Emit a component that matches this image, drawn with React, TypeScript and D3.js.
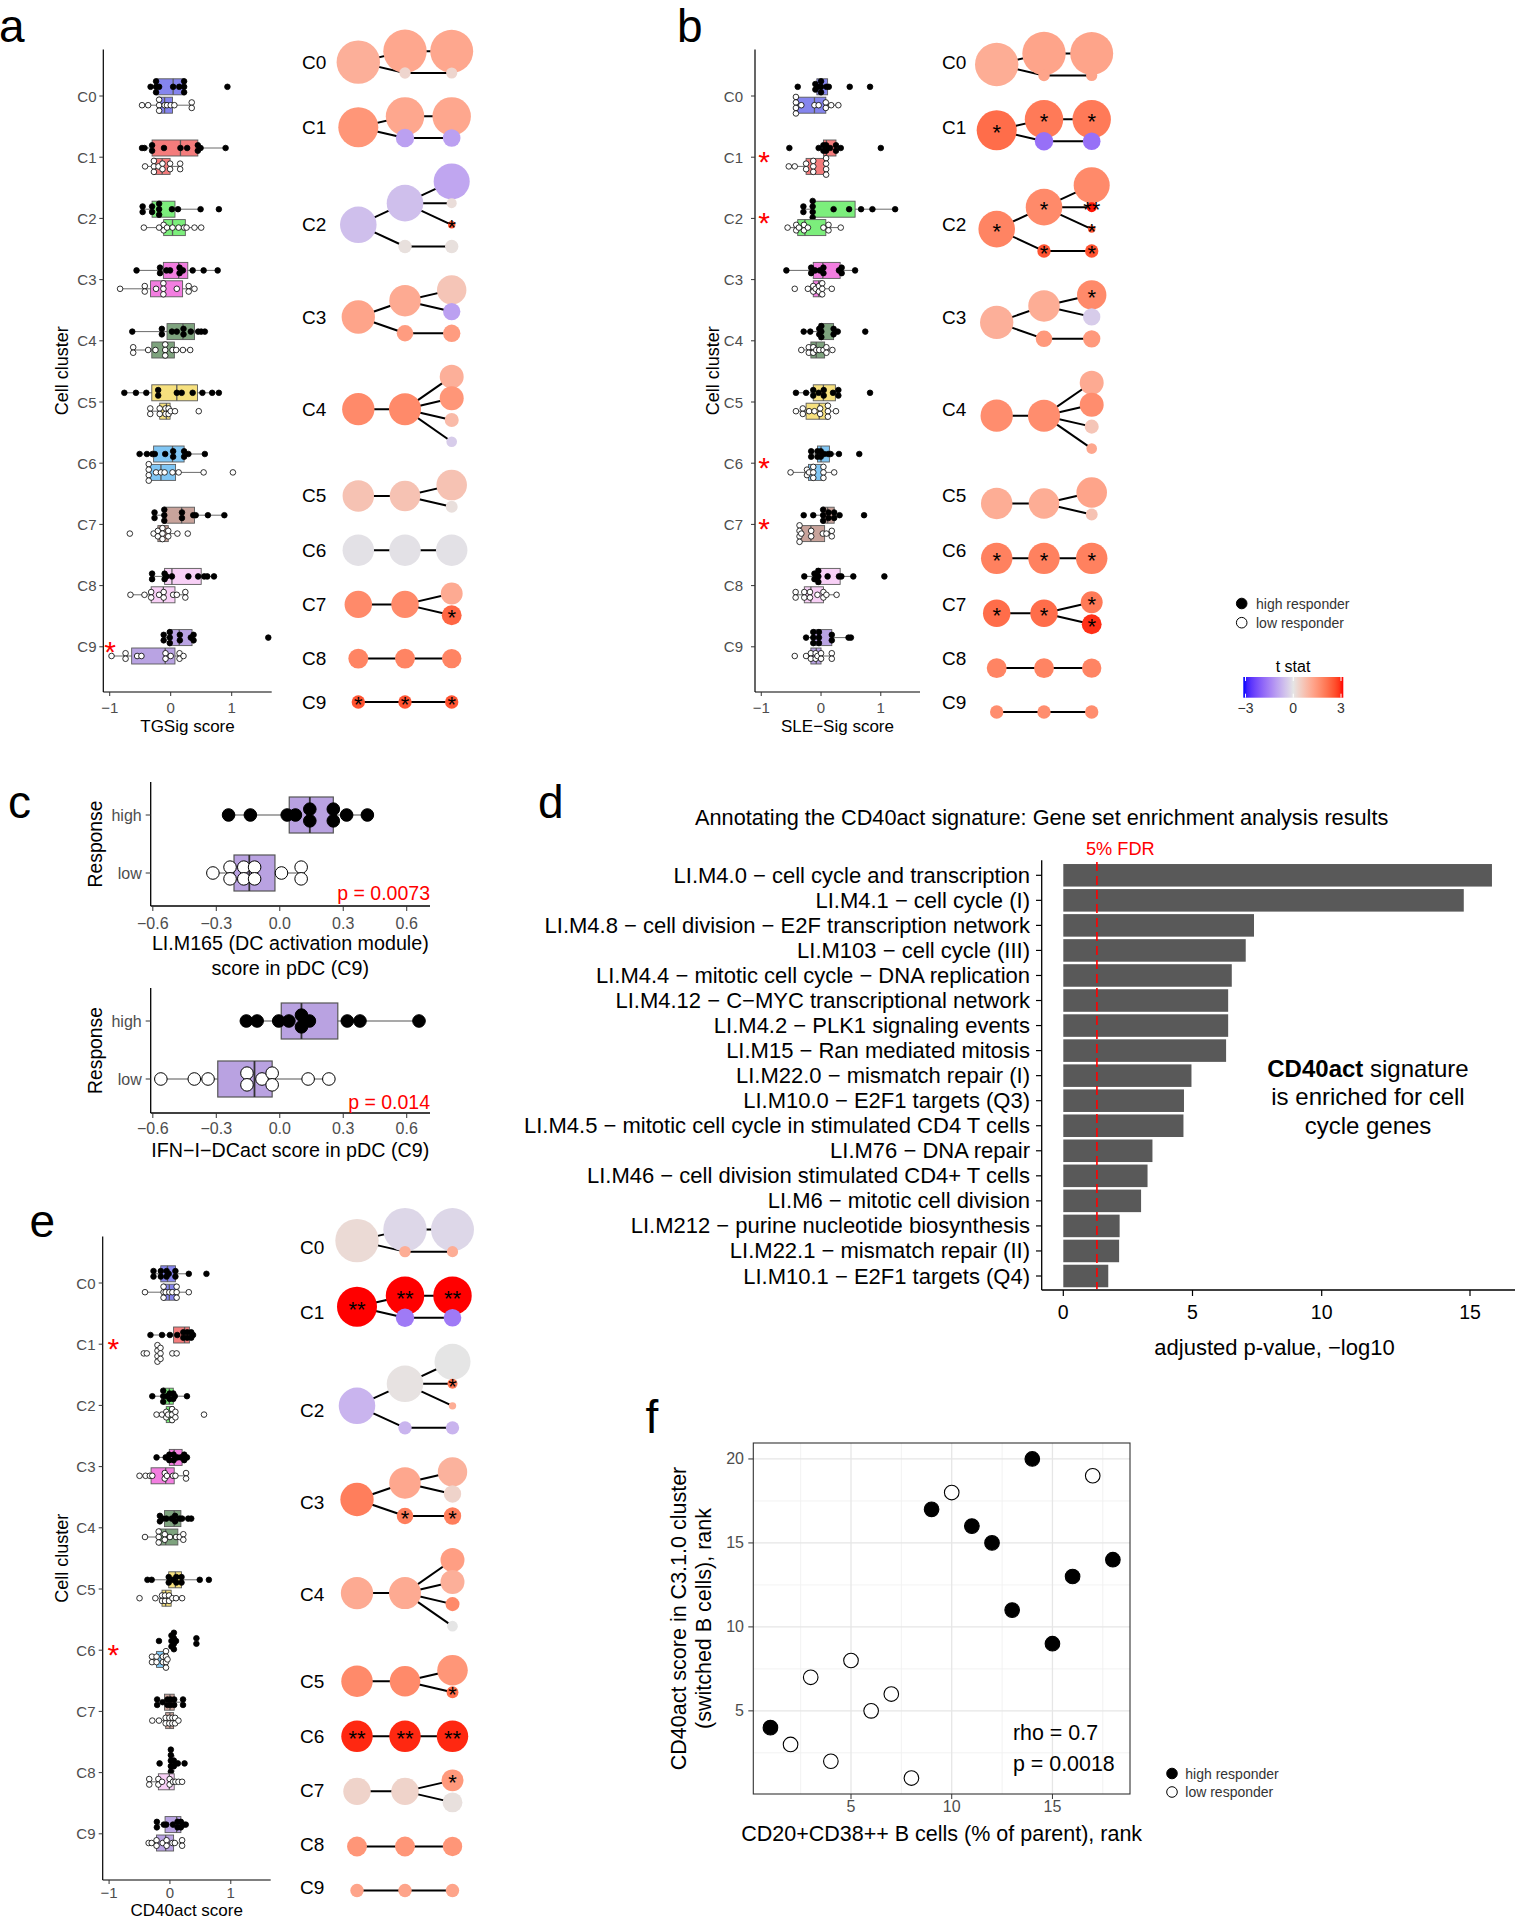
import React from "react";
import * as d3 from "d3";

const FONT = "'Liberation Sans', Arial, Helvetica, sans-serif";
const GREY30 = "#4d4d4d";
const MINUS = "\u2212";

// ---------------- shared categories ----------------
const clusters = ["C0", "C1", "C2", "C3", "C4", "C5", "C6", "C7", "C8", "C9"];
const responders = ["high", "low"];
const clusterFill = ["#8585ee", "#f47c7c", "#7cee7c", "#f27ee0", "#7ea37e", "#f6e07e", "#80c6f4", "#c8a39b", "#f8d0f6", "#b9a3e3"];

// ---------------- panel a: TGSig score per cluster ----------------
const tgsigHigh = [
  [-0.33, -0.25, -0.23, -0.23, -0.19, 0.04, 0.14, 0.2, 0.24, 0.24, 0.93],
  [-0.47, -0.43, -0.31, -0.3, -0.11, 0.16, 0.27, 0.43, 0.46, 0.49, 0.9],
  [-0.47, -0.45, -0.31, -0.3, -0.2, -0.19, -0.18, 0.02, 0.12, 0.49, 0.79],
  [-0.56, -0.18, -0.17, -0.07, -0.01, 0.13, 0.16, 0.2, 0.36, 0.54, 0.77],
  [-0.63, -0.15, -0.14, 0.02, 0.1, 0.2, 0.22, 0.33, 0.45, 0.5, 0.56],
  [-0.76, -0.57, -0.4, -0.22, -0.19, 0.1, 0.18, 0.36, 0.52, 0.68, 0.79],
  [-0.51, -0.39, -0.3, -0.26, -0.09, 0.03, 0.05, 0.2, 0.24, 0.29, 0.56],
  [-0.27, -0.26, -0.12, -0.1, -0.09, 0.18, 0.19, 0.37, 0.41, 0.61, 0.88],
  [-0.31, -0.3, -0.11, -0.09, -0.07, 0.02, 0.29, 0.45, 0.55, 0.6, 0.71],
  [-0.12, -0.11, -0.03, -0.01, 0.0, 0.14, 0.16, 0.33, 0.37, 0.38, 1.6],
];
const tgsigLow = [
  [-0.47, -0.37, -0.2, -0.18, -0.18, -0.1, -0.06, 0.0, 0.06, 0.34, 0.35],
  [-0.42, -0.28, -0.28, -0.27, -0.2, -0.14, -0.13, -0.03, 0.01, 0.15, 0.16],
  [-0.44, -0.19, -0.12, -0.11, -0.06, 0.03, 0.13, 0.22, 0.26, 0.39, 0.5],
  [-0.83, -0.43, -0.42, -0.24, -0.13, -0.12, -0.11, 0.1, 0.29, 0.3, 0.39],
  [-0.62, -0.61, -0.37, -0.25, -0.1, -0.09, -0.08, 0.03, 0.09, 0.2, 0.32],
  [-0.34, -0.33, -0.19, -0.17, -0.1, -0.07, -0.05, -0.02, 0.0, 0.07, 0.46],
  [-0.37, -0.36, -0.36, -0.35, -0.24, -0.16, -0.1, 0.03, 0.13, 0.54, 1.02],
  [-0.67, -0.28, -0.22, -0.2, -0.15, -0.13, -0.12, -0.05, -0.03, 0.11, 0.28],
  [-0.66, -0.43, -0.33, -0.31, -0.19, -0.12, -0.11, 0.04, 0.1, 0.23, 0.25],
  [-0.97, -0.75, -0.73, -0.55, -0.48, -0.09, -0.08, 0.0, 0.14, 0.15, 0.21],
];
const tgsigStarred = ["C9"];

// ---------------- panel b: SLE-Sig score per cluster ----------------
const sleHigh = [
  [-0.39, -0.11, -0.08, -0.06, -0.01, 0.0, 0.01, 0.09, 0.13, 0.48, 0.82],
  [-0.53, -0.04, 0.03, 0.05, 0.08, 0.09, 0.15, 0.24, 0.26, 0.33, 1.0],
  [-0.3, -0.29, -0.15, -0.14, -0.14, -0.13, 0.21, 0.47, 0.67, 0.86, 1.24],
  [-0.58, -0.17, -0.16, -0.1, -0.02, 0.03, 0.05, 0.3, 0.34, 0.35, 0.57],
  [-0.29, -0.18, -0.04, -0.02, 0.0, 0.0, 0.01, 0.2, 0.22, 0.28, 0.74],
  [-0.42, -0.25, -0.14, -0.12, -0.04, 0.04, 0.05, 0.2, 0.28, 0.3, 0.82],
  [-0.17, -0.16, -0.07, -0.05, -0.01, 0.0, 0.05, 0.12, 0.16, 0.3, 0.64],
  [-0.29, -0.13, 0.02, 0.04, 0.05, 0.11, 0.14, 0.2, 0.24, 0.31, 0.72],
  [-0.28, -0.12, -0.1, -0.06, -0.05, -0.03, 0.11, 0.3, 0.34, 0.54, 1.06],
  [-0.25, -0.14, -0.13, -0.12, -0.05, -0.04, -0.02, 0.17, 0.19, 0.46, 0.5],
];
const sleLow = [
  [-0.43, -0.42, -0.42, -0.41, -0.33, -0.11, -0.04, 0.07, 0.09, 0.17, 0.29],
  [-0.54, -0.44, -0.26, -0.24, -0.14, -0.13, -0.12, 0.07, 0.09, 0.09, 0.1],
  [-0.56, -0.42, -0.41, -0.37, -0.3, -0.27, -0.22, 0.04, 0.12, 0.13, 0.33],
  [-0.44, -0.22, -0.14, -0.12, -0.09, -0.04, -0.03, 0.01, 0.03, 0.03, 0.18],
  [-0.33, -0.22, -0.19, -0.15, -0.11, -0.08, -0.03, 0.04, 0.08, 0.1, 0.19],
  [-0.42, -0.31, -0.3, -0.2, -0.11, -0.03, 0.0, 0.1, 0.12, 0.13, 0.25],
  [-0.51, -0.25, -0.22, -0.2, -0.14, -0.13, -0.12, 0.03, 0.05, 0.05, 0.22],
  [-0.37, -0.36, -0.36, -0.35, -0.33, -0.17, -0.16, 0.03, 0.09, 0.17, 0.19],
  [-0.43, -0.42, -0.29, -0.27, -0.2, -0.17, -0.06, 0.03, 0.05, 0.09, 0.26],
  [-0.44, -0.25, -0.18, -0.16, -0.1, -0.08, -0.06, -0.01, 0.01, 0.17, 0.19],
];
const sleStarred = ["C1", "C2", "C6", "C7"];

// ---------------- panel e: CD40act score per cluster ----------------
const cdHigh = [
  [-0.29, -0.25, -0.16, -0.14, -0.07, -0.04, -0.02, 0.07, 0.11, 0.31, 0.6],
  [-0.32, -0.13, 0.0, 0.12, 0.2, 0.24, 0.27, 0.3, 0.34, 0.36, 0.38],
  [-0.29, -0.12, -0.11, -0.1, -0.05, -0.01, 0.0, 0.04, 0.07, 0.08, 0.28],
  [-0.22, -0.07, -0.02, 0.0, 0.05, 0.07, 0.12, 0.18, 0.22, 0.25, 0.28],
  [-0.18, -0.15, -0.12, -0.06, 0.03, 0.07, 0.1, 0.16, 0.2, 0.3, 0.35],
  [-0.37, -0.3, -0.03, -0.01, 0.05, 0.09, 0.12, 0.17, 0.21, 0.49, 0.64],
  [-0.18, 0.01, 0.03, 0.04, 0.05, 0.06, 0.07, 0.08, 0.1, 0.42, 0.45],
  [-0.22, -0.2, -0.12, -0.06, -0.02, 0.0, 0.02, 0.06, 0.08, 0.2, 0.23],
  [-0.17, 0.0, 0.01, 0.01, 0.02, 0.02, 0.03, 0.05, 0.08, 0.13, 0.24],
  [-0.23, -0.2, -0.1, -0.06, 0.05, 0.11, 0.14, 0.17, 0.19, 0.22, 0.26],
];
const cdLow = [
  [-0.41, -0.11, -0.11, -0.1, -0.07, -0.01, 0.04, 0.1, 0.11, 0.12, 0.31],
  [-0.43, -0.38, -0.22, -0.21, -0.2, -0.19, -0.17, -0.16, -0.14, 0.04, 0.11],
  [-0.22, -0.13, -0.07, -0.05, -0.03, 0.02, 0.03, 0.05, 0.07, 0.11, 0.56],
  [-0.5, -0.4, -0.33, -0.29, -0.1, -0.07, -0.05, 0.05, 0.09, 0.26, 0.27],
  [-0.41, -0.2, -0.19, -0.17, -0.1, -0.07, 0.0, 0.1, 0.16, 0.2, 0.24],
  [-0.5, -0.24, -0.14, -0.12, -0.09, -0.07, -0.03, 0.0, 0.04, 0.1, 0.2],
  [-0.3, -0.29, -0.24, -0.2, -0.13, -0.1, -0.08, -0.07, -0.06, -0.05, -0.04],
  [-0.29, -0.18, -0.08, -0.06, -0.02, 0.0, 0.03, 0.05, 0.07, 0.1, 0.14],
  [-0.35, -0.33, -0.2, -0.18, -0.13, -0.01, 0.0, 0.05, 0.09, 0.14, 0.2],
  [-0.35, -0.3, -0.23, -0.21, -0.12, -0.07, -0.04, 0.04, 0.08, 0.19, 0.21],
];
const cdStarred = ["C1", "C6"];
const miniTicks = [-1, 0, 1];

// ---------------- cluster trees (shared hierarchy) ----------------
const treeCluster = [0, 0, 0, 0, 0, 1, 1, 1, 1, 1, 2, 2, 2, 2, 2, 2, 2, 3, 3, 3, 3, 3, 3, 4, 4, 4, 4, 4, 4, 5, 5, 5, 5, 6, 6, 6, 7, 7, 7, 7, 8, 8, 8, 9, 9, 9];
const treeLevel = [1, 2, 2, 3, 3, 1, 2, 2, 3, 3, 1, 2, 2, 3, 3, 3, 3, 1, 2, 2, 3, 3, 3, 1, 2, 3, 3, 3, 3, 1, 2, 3, 3, 1, 2, 3, 1, 2, 3, 3, 1, 2, 3, 1, 2, 3];
const treeParent = [-1, 0, 0, 1, 2, -1, 5, 5, 6, 7, -1, 10, 10, 11, 11, 11, 12, -1, 17, 17, 18, 18, 19, -1, 23, 24, 24, 24, 24, -1, 29, 30, 30, -1, 33, 34, -1, 36, 37, 37, -1, 40, 41, -1, 43, 44];
// relative cell frequency of each node (% of cells)
const treeFreq = [20, 20, 1.38, 19.6, 1.33, 17, 15.7, 3.6, 15.7, 3.3, 14.2, 14.2, 1.9, 13.8, 1.06, 0.58, 1.9, 11.8, 10.5, 2.9, 9.2, 3.2, 3.2, 11.1, 10.9, 6.1, 6.1, 2.1, 1.2, 10.5, 9.9, 9.9, 1.5, 10.5, 10.5, 10.5, 8, 8, 5.1, 4.2, 4.2, 4.2, 4.0, 1.9, 1.9, 1.9];
const tstatA = [1.0, 1.15, 0.3, 1.15, 0.3, 1.45, 1.15, -1.0, 1.15, -1.0, -0.55, -0.55, 0.1, -0.9, 0.15, 2.45, 0.1, 1.2, 1.1, 1.35, 0.6, -1.0, 1.35, 1.65, 1.65, 1.0, 1.45, 0.8, -0.35, 0.65, 0.65, 0.65, 0.12, -0.05, -0.05, -0.05, 1.65, 1.65, 1.1, 2.2, 1.75, 1.75, 1.75, 2.45, 2.45, 2.45];
const signifA: [number, string][] = [[15, "*"], [39, "*"], [43, "*"], [44, "*"], [45, "*"]];
const tstatB = [1.05, 1.2, 1.2, 1.2, 1.2, 2.1, 1.9, -1.7, 1.9, -1.7, 1.75, 1.65, 2.45, 1.65, 2.95, 2.45, 2.45, 1.0, 1.05, 1.4, 1.65, -0.35, 1.4, 1.6, 1.6, 1.1, 1.6, 0.6, 1.15, 1.05, 1.05, 1.2, 0.65, 1.8, 1.8, 1.8, 2.1, 2.1, 1.9, 2.8, 1.75, 1.75, 1.75, 1.6, 1.6, 1.6];
const signifB: [number, string][] = [[5, "*"], [6, "*"], [8, "*"], [10, "*"], [11, "*"], [12, "*"], [14, "**"], [15, "*"], [16, "*"], [20, "*"], [33, "*"], [34, "*"], [35, "*"], [36, "*"], [37, "*"], [38, "*"], [39, "*"]];
const tstatE = [0.2, -0.2, 1.05, -0.2, 1.05, 3, 3, -1.55, 3, -1.55, -0.7, 0.05, -0.7, 0, 1.9, 1.05, -0.7, 1.85, 1.15, 1.85, 0.95, 0.35, 1.85, 1.1, 1.1, 1.3, 1.0, 1.65, 0, 1.65, 1.65, 1.45, 2.1, 2.85, 2.85, 2.85, 0.35, 0.35, 1.4, 0.1, 1.45, 1.45, 1.45, 1.2, 1.2, 1.2];
const signifE: [number, string][] = [[5, "**"], [6, "**"], [8, "**"], [14, "*"], [19, "*"], [22, "*"], [32, "*"], [33, "**"], [34, "**"], [35, "**"], [38, "*"]];
const tstatTicks = [-3, 0, 3];

// ---------------- panel c: pDC scores ----------------
const dcActHigh = [-0.242, -0.139, 0.035, 0.074, 0.142, 0.142, 0.253, 0.253, 0.316, 0.414];
const dcActLow = [-0.316, -0.24, -0.23, -0.175, -0.165, -0.123, -0.115, 0.008, 0.101, 0.101];
const ifnHigh = [-0.158, -0.107, -0.005, 0.043, 0.095, 0.11, 0.14, 0.319, 0.379, 0.658];
const ifnLow = [-0.562, -0.404, -0.339, -0.155, -0.155, -0.084, -0.036, -0.036, 0.134, 0.232];
const responseTicks = [-0.6, -0.3, 0, 0.3, 0.6];

// ---------------- panel d: gene set enrichment ----------------
const gseaModules = [
  "LI.M4.0 \u2212 cell cycle and transcription",
  "LI.M4.1 \u2212 cell cycle (I)",
  "LI.M4.8 \u2212 cell division \u2212 E2F transcription network",
  "LI.M103 \u2212 cell cycle (III)",
  "LI.M4.4 \u2212 mitotic cell cycle \u2212 DNA replication",
  "LI.M4.12 \u2212 C\u2212MYC transcriptional network",
  "LI.M4.2 \u2212 PLK1 signaling events",
  "LI.M15 \u2212 Ran mediated mitosis",
  "LI.M22.0 \u2212 mismatch repair (I)",
  "LI.M10.0 \u2212 E2F1 targets (Q3)",
  "LI.M4.5 \u2212 mitotic cell cycle in stimulated CD4 T cells",
  "LI.M76 \u2212 DNA repair",
  "LI.M46 \u2212 cell division stimulated CD4+ T cells",
  "LI.M6 \u2212 mitotic cell division",
  "LI.M212 \u2212 purine nucleotide biosynthesis",
  "LI.M22.1 \u2212 mismatch repair (II)",
  "LI.M10.1 \u2212 E2F1 targets (Q4)",
];
const gseaNegLogP = [15.74, 14.79, 7.38, 7.06, 6.52, 6.38, 6.38, 6.3, 4.96, 4.67, 4.65, 3.45, 3.26, 3.01, 2.18, 2.16, 1.74];
const fdrThreshold = -Math.log10(0.05);
const gseaTicks = [0, 5, 10, 15];

// ---------------- panel f: rank correlation ----------------
const bcellRank = [1, 2, 3, 4, 5, 6, 7, 8, 9, 10, 11, 12, 13, 14, 15, 16, 17, 18];
const cd40Rank = [4, 3, 7, 2, 8, 5, 6, 1, 17, 18, 16, 15, 11, 20, 9, 13, 19, 14];
const patientResponse = ["high", "low", "low", "low", "low", "low", "low", "low", "high", "low", "high", "high", "high", "high", "high", "high", "low", "high"];
const rankTicks = [5, 10, 15];
const rankYTicks = [5, 10, 15, 20];
const rankMinor = [2.5, 7.5, 12.5, 17.5];

// ---------------- helpers ----------------
const fmtMinus = (s: string) => s.replace(/-/g, MINUS);

function boxStats(vals: number[]) {
  const s = vals.slice().sort(d3.ascending);
  const q1 = d3.quantile(s, 0.25)!;
  const med = d3.quantile(s, 0.5)!;
  const q3 = d3.quantile(s, 0.75)!;
  const iqr = q3 - q1;
  const lo = d3.min(s.filter((v) => v >= q1 - 1.5 * iqr - 1e-9))!;
  const hi = d3.max(s.filter((v) => v <= q3 + 1.5 * iqr + 1e-9))!;
  return { q1, med, q3, lo, hi };
}

// dot-density binning, stacked around the centre line
function dotStack(vals: number[], binwidth: number) {
  const s = vals.slice().sort(d3.ascending);
  const out: { x: number; off: number }[] = [];
  let i = 0;
  while (i < s.length) {
    let j = i;
    while (j + 1 < s.length && s[j + 1] < s[i] + binwidth) j++;
    const center = (s[i] + s[j]) / 2;
    const n = j - i + 1;
    for (let k = 0; k < n; k++) out.push({ x: center, off: k - (n - 1) / 2 });
    i = j + 1;
  }
  return out;
}

const tColor = d3
  .scaleLinear<string>()
  .domain([-3, 0, 3])
  .range(["#0000ff", "#e5e5e5", "#ff0000"])
  .interpolate(d3.interpolateLab)
  .clamp(true);

const nodeRadius = d3.scaleSqrt().domain([0, 20]).range([0, 21.7]);

// fractional leaf-slot position of every tree node
const treePos: number[] = (() => {
  const pos = new Array(treeLevel.length).fill(0);
  let slot = 0;
  let last = -1;
  treeLevel.forEach((lv, i) => {
    if (lv !== 3) return;
    if (last !== -1 && treeCluster[i] !== last) slot++;
    pos[i] = slot++;
    last = treeCluster[i];
  });
  [2, 1].forEach((lv) => {
    treeLevel.forEach((l, i) => {
      if (l !== lv) return;
      const kids = treeParent.map((p, k) => (p === i ? k : -1)).filter((k) => k >= 0);
      pos[i] = d3.mean(kids, (k) => pos[k])!;
    });
  });
  return pos;
})();

// ---------------- components ----------------
const PanelLetter = ({ x, y, children }: any) => (
  <text x={x} y={y} fontSize={46} fill="#000">
    {children}
  </text>
);

const MiniBoxPanel = ({ high, low, starred, axisX, xRight, yTop, yBottom, cy0, labelRight, starX, title, tickY, titleY, ylabX }: any) => {
  const x = d3.scaleLinear().domain([-1.105, 1.656]).range([axisX, xRight]);
  const y = d3.scalePoint<string>().domain(clusters).range([cy0, cy0 + 9 * 61.2]);
  const groups = [
    { vals: high, dy: -9.2, fill: "#000" },
    { vals: low, dy: 9.2, fill: "#fff" },
  ];
  const line = "#5a5a5a";
  return (
    <g>
      {clusters.map((c, i) =>
        groups.map((g, gi) => {
          const st = boxStats(g.vals[i]);
          const yc = y(c)! + g.dy;
          const dots = dotStack(g.vals[i], 0.04);
          return (
            <g key={c + gi}>
              <line x1={x(st.lo)} x2={x(st.hi)} y1={yc} y2={yc} stroke={line} strokeWidth={0.9} />
              <rect x={x(st.q1)} y={yc - 8} width={x(st.q3) - x(st.q1)} height={16} fill={clusterFill[i]} stroke={line} strokeWidth={0.9} />
              <line x1={x(st.med)} x2={x(st.med)} y1={yc - 8} y2={yc + 8} stroke={line} strokeWidth={1.3} />
              {dots.map((d, k) => (
                <circle key={k} cx={x(d.x)} cy={yc + d.off * 5.5} r={2.8} fill={g.fill} stroke="#000" strokeWidth={0.8} />
              ))}
            </g>
          );
        })
      )}
      <line x1={axisX} x2={axisX} y1={yTop} y2={yBottom} stroke="#000" strokeWidth={1.2} />
      <line x1={axisX} x2={xRight} y1={yBottom} y2={yBottom} stroke="#000" strokeWidth={1.2} />
      {clusters.map((c) => (
        <g key={c}>
          <line x1={axisX - 4} x2={axisX} y1={y(c)} y2={y(c)} stroke="#333" strokeWidth={1} />
          <text x={labelRight} y={y(c)} fontSize={15} fill={GREY30} textAnchor="end" dominantBaseline="central">
            {c}
          </text>
        </g>
      ))}
      {starred.map((c: string) => (
        <text key={c} x={starX} y={y(c)! + 15} fontSize={30} fill="#ff0000" textAnchor="middle">
          *
        </text>
      ))}
      {miniTicks.map((t) => (
        <g key={t}>
          <line x1={x(t)} x2={x(t)} y1={yBottom} y2={yBottom + 4} stroke="#333" strokeWidth={1} />
          <text x={x(t)} y={tickY} fontSize={15} fill={GREY30} textAnchor="middle" dominantBaseline="central">
            {fmtMinus(String(t))}
          </text>
        </g>
      ))}
      <text x={(axisX + xRight) / 2} y={titleY} fontSize={17} textAnchor="middle" dominantBaseline="central">
        {title}
      </text>
      <text transform={`translate(${ylabX},${(yTop + yBottom) / 2}) rotate(-90)`} fontSize={18} textAnchor="middle" dominantBaseline="central">
        Cell cluster
      </text>
    </g>
  );
};

const TreePanel = ({ colX, labelX, nodeY0, nodeStep, labelY0, labelStep, tstat, signif }: any) => {
  const ny = d3.scaleLinear().domain([0, 1]).range([nodeY0, nodeY0 + nodeStep]);
  const ly = d3.scaleLinear().domain([0, 1]).range([labelY0, labelY0 + labelStep]);
  const px = (i: number) => colX[treeLevel[i] - 1];
  const py = (i: number) => ny(treePos[i]);
  const sigMap = new Map<number, string>(signif);
  return (
    <g>
      {treeParent.map((p, i) =>
        p < 0 ? null : <line key={"e" + i} x1={px(p)} y1={py(p)} x2={px(i)} y2={py(i)} stroke="#000" strokeWidth={2} />
      )}
      {treeLevel.map((lv, i) => (
        <circle key={"n" + i} cx={px(i)} cy={py(i)} r={nodeRadius(treeFreq[i])} fill={tColor(tstat[i])} />
      ))}
      {treeLevel.map((lv, i) =>
        sigMap.has(i) ? (
          <text key={"s" + i} x={px(i)} y={py(i) + 10} fontSize={22} textAnchor="middle" fill="#000">
            {sigMap.get(i)}
          </text>
        ) : null
      )}
      {treeLevel.map((lv, i) =>
        lv === 1 ? (
          <text key={"l" + i} x={labelX} y={ly(treePos[i])} fontSize={19} dominantBaseline="central" fill="#000">
            {clusters[treeCluster[i]]}
          </text>
        ) : null
      )}
    </g>
  );
};

const ResponsePanel = ({ high, low, axisTop, axisBottom, tickY, titleLines, titleY, pLabel, pY }: any) => {
  const x = d3.scaleLinear().domain([-0.61, 0.71]).range([150.7, 430]);
  const y = d3.scalePoint<string>().domain(responders).range([axisTop + 33, axisTop + 91]);
  const groups = [
    { key: "high", vals: high, fill: "#000" },
    { key: "low", vals: low, fill: "#fff" },
  ];
  return (
    <g>
      {groups.map((g) => {
        const st = boxStats(g.vals);
        const yc = y(g.key)!;
        return (
          <g key={g.key}>
            <line x1={x(st.lo)} x2={x(st.hi)} y1={yc} y2={yc} stroke="#555" strokeWidth={1.2} />
            <rect x={x(st.q1)} y={yc - 18} width={x(st.q3) - x(st.q1)} height={36} fill="#b9a2e1" stroke="#555" strokeWidth={1.2} />
            <line x1={x(st.med)} x2={x(st.med)} y1={yc - 18} y2={yc + 18} stroke="#333" strokeWidth={1.8} />
            {dotStack(g.vals, 0.03).map((d, k) => (
              <circle key={k} cx={x(d.x)} cy={yc + d.off * 11.7} r={6.3} fill={g.fill} stroke="#000" strokeWidth={1} />
            ))}
          </g>
        );
      })}
      <line x1={150.7} x2={150.7} y1={axisTop} y2={axisBottom} stroke="#000" strokeWidth={1.3} />
      <line x1={150.7} x2={430} y1={axisBottom} y2={axisBottom} stroke="#000" strokeWidth={1.3} />
      {responders.map((r) => (
        <g key={r}>
          <line x1={145.7} x2={150.7} y1={y(r)} y2={y(r)} stroke="#333" />
          <text x={141.7} y={y(r)} fontSize={16} fill={GREY30} textAnchor="end" dominantBaseline="central">
            {r}
          </text>
        </g>
      ))}
      {responseTicks.map((t) => (
        <g key={t}>
          <line x1={x(t)} x2={x(t)} y1={axisBottom} y2={axisBottom + 5} stroke="#333" />
          <text x={x(t)} y={tickY} fontSize={16} fill={GREY30} textAnchor="middle" dominantBaseline="central">
            {fmtMinus(d3.format(".1f")(t))}
          </text>
        </g>
      ))}
      {titleLines.map((s: string, i: number) => (
        <text key={i} x={290.3} y={titleY + i * 25} fontSize={19.7} textAnchor="middle" dominantBaseline="central">
          {s}
        </text>
      ))}
      <text transform={`translate(95,${(axisTop + axisBottom) / 2}) rotate(-90)`} fontSize={19.3} textAnchor="middle" dominantBaseline="central">
        Response
      </text>
      <text x={430} y={pY} fontSize={19.5} fill="#ff0000" textAnchor="end" dominantBaseline="central">
        {pLabel}
      </text>
    </g>
  );
};

const GseaPanel = () => {
  const x = d3.scaleLinear().domain([0, 10, 15]).range([1063.3, 1321.7, 1470]);
  const y = d3.scalePoint<string>().domain(gseaModules).range([875.3, 1276]);
  const bh = y.step() * 0.9;
  return (
    <g>
      <text x={1041.7} y={817} fontSize={21.7} textAnchor="middle" dominantBaseline="central">
        Annotating the CD40act signature: Gene set enrichment analysis results
      </text>
      {gseaModules.map((m, i) => (
        <g key={m}>
          <rect x={x(0)} y={y(m)! - bh / 2} width={x(gseaNegLogP[i]) - x(0)} height={bh} fill="#595959" />
          <line x1={1036} x2={1041.7} y1={y(m)} y2={y(m)} stroke="#000" strokeWidth={1.2} />
          <text x={1030} y={y(m)} fontSize={22} textAnchor="end" dominantBaseline="central" fill="#000">
            {m}
          </text>
        </g>
      ))}
      <line x1={x(fdrThreshold)} x2={x(fdrThreshold)} y1={862} y2={1289} stroke="#ff0000" strokeWidth={1.6} strokeDasharray="9 5" />
      <text x={1086} y={849} fontSize={18.2} fill="#ff0000" dominantBaseline="central">
        5% FDR
      </text>
      <line x1={1041.7} x2={1041.7} y1={860.3} y2={1290} stroke="#000" strokeWidth={1.3} />
      <line x1={1041.7} x2={1515} y1={1290} y2={1290} stroke="#000" strokeWidth={1.3} />
      {gseaTicks.map((t) => (
        <g key={t}>
          <line x1={x(t)} x2={x(t)} y1={1290} y2={1296} stroke="#000" strokeWidth={1.2} />
          <text x={x(t)} y={1311.7} fontSize={19.5} textAnchor="middle" dominantBaseline="central">
            {t}
          </text>
        </g>
      ))}
      <text x={1274.5} y={1347.7} fontSize={22} textAnchor="middle" dominantBaseline="central">
        adjusted p-value, {MINUS}log10
      </text>
      <text x={1368} y={1068} fontSize={24} textAnchor="middle" dominantBaseline="central">
        <tspan fontWeight="bold">CD40act</tspan> signature
      </text>
      <text x={1368} y={1096.5} fontSize={24} textAnchor="middle" dominantBaseline="central">
        is enriched for cell
      </text>
      <text x={1368} y={1125.5} fontSize={24} textAnchor="middle" dominantBaseline="central">
        cycle genes
      </text>
    </g>
  );
};

const ResponderLegend = ({ cx, y0, dy, tx }: any) => (
  <g>
    {["high responder", "low responder"].map((s, i) => (
      <g key={s}>
        <circle cx={cx} cy={y0 + i * dy} r={5.3} fill={i === 0 ? "#000" : "#fff"} stroke="#000" strokeWidth={1} />
        <text x={tx} y={y0 + i * dy} fontSize={14} fill="#333" dominantBaseline="central">
          {s}
        </text>
      </g>
    ))}
  </g>
);

const RankPanel = () => {
  const x = d3.scaleLinear().domain([0.15, 18.85]).range([753.3, 1130]);
  const y = d3.scaleLinear().domain([0.05, 20.95]).range([1794, 1443]);
  const [x0, x1] = x.range();
  const [y0, y1] = y.range();
  return (
    <g>
      {rankMinor.map((t) => (
        <g key={"m" + t}>
          <line x1={x(t)} x2={x(t)} y1={y1} y2={y0} stroke="#f0f0f0" strokeWidth={0.9} />
          <line x1={x0} x2={x1} y1={y(t)} y2={y(t)} stroke="#f0f0f0" strokeWidth={0.9} />
        </g>
      ))}
      {rankTicks.map((t) => (
        <line key={"gx" + t} x1={x(t)} x2={x(t)} y1={y1} y2={y0} stroke="#e6e6e6" strokeWidth={1.3} />
      ))}
      {rankYTicks.map((t) => (
        <line key={"gy" + t} x1={x0} x2={x1} y1={y(t)} y2={y(t)} stroke="#e6e6e6" strokeWidth={1.3} />
      ))}
      {bcellRank.map((r, i) => (
        <circle key={i} cx={x(r)} cy={y(cd40Rank[i])} r={7.3} fill={patientResponse[i] === "high" ? "#000" : "#fff"} stroke="#000" strokeWidth={1.1} />
      ))}
      <rect x={x0} y={y1} width={x1 - x0} height={y0 - y1} fill="none" stroke="#333" strokeWidth={1.1} />
      {rankTicks.map((t) => (
        <g key={"tx" + t}>
          <line x1={x(t)} x2={x(t)} y1={y0} y2={y0 + 5} stroke="#333" />
          <text x={x(t)} y={1806.6} fontSize={16} fill={GREY30} textAnchor="middle" dominantBaseline="central">
            {t}
          </text>
        </g>
      ))}
      {rankYTicks.map((t) => (
        <g key={"ty" + t}>
          <line x1={x0 - 5} x2={x0} y1={y(t)} y2={y(t)} stroke="#333" />
          <text x={744} y={y(t)} fontSize={16} fill={GREY30} textAnchor="end" dominantBaseline="central">
            {t}
          </text>
        </g>
      ))}
      <text x={(x0 + x1) / 2} y={1833.5} fontSize={21.5} textAnchor="middle" dominantBaseline="central">
        CD20+CD38++ B cells (% of parent), rank
      </text>
      <text transform={`translate(679,${(y0 + y1) / 2}) rotate(-90)`} fontSize={21.5} textAnchor="middle" dominantBaseline="central">
        CD40act score in C3.1.0 cluster
      </text>
      <text transform={`translate(704,${(y0 + y1) / 2}) rotate(-90)`} fontSize={21.5} textAnchor="middle" dominantBaseline="central">
        (switched B cells), rank
      </text>
      <text x={1013} y={1732.7} fontSize={21.4} dominantBaseline="central">
        rho = 0.7
      </text>
      <text x={1013} y={1764} fontSize={21.4} dominantBaseline="central">
        p = 0.0018
      </text>
      <ResponderLegend cx={1172} y0={1773.5} dy={18.5} tx={1185.3} />
    </g>
  );
};

const TstatLegend = () => {
  const x = d3.scaleLinear().domain([-3, 3]).range([1245.5, 1341]);
  const stops = d3.range(-3, 3.001, 0.25);
  return (
    <g>
      <defs>
        <linearGradient id="tgrad" x1="0" x2="1" y1="0" y2="0">
          {stops.map((s) => (
            <stop key={s} offset={(s + 3) / 6} stopColor={tColor(s)} />
          ))}
        </linearGradient>
      </defs>
      <text x={1293} y={666.4} fontSize={16} textAnchor="middle" dominantBaseline="central">
        t stat
      </text>
      <rect x={1243.3} y={677} width={100} height={20.7} fill="url(#tgrad)" />
      {tstatTicks.map((t) => (
        <g key={t}>
          <line x1={x(t)} x2={x(t)} y1={677} y2={681} stroke="#fff" />
          <line x1={x(t)} x2={x(t)} y1={693.7} y2={697.7} stroke="#fff" />
          <text x={x(t)} y={708} fontSize={14} fill="#333" textAnchor="middle" dominantBaseline="central">
            {fmtMinus(String(t))}
          </text>
        </g>
      ))}
    </g>
  );
};

const App = () => (
  <svg width={1515} height={1920} viewBox="0 0 1515 1920" style={{ position: "absolute", left: 0, top: 0, display: "block" }} fontFamily={FONT}>
    <rect width={1515} height={1920} fill="#fff" />

    {/* panel a */}
    <PanelLetter x={-1} y={42}>a</PanelLetter>
    <MiniBoxPanel high={tgsigHigh} low={tgsigLow} starred={tgsigStarred} axisX={103.3} xRight={271.7} yTop={49.5} yBottom={692} cy0={96} labelRight={96.5} starX={110} title="TGSig score" tickY={707.5} titleY={726.4} ylabX={61.5} />
    <TreePanel colX={[358.3, 405, 451.7]} labelX={302} nodeY0={51.3} nodeStep={21.69} labelY0={51.3} labelStep={21.69} tstat={tstatA} signif={signifA} />

    {/* panel b */}
    <PanelLetter x={677} y={42}>b</PanelLetter>
    <MiniBoxPanel high={sleHigh} low={sleLow} starred={sleStarred} axisX={755} xRight={920} yTop={49.5} yBottom={692} cy0={96} labelRight={743} starX={764} title={`SLE${MINUS}Sig score`} tickY={707.5} titleY={726.4} ylabX={713} />
    <TreePanel colX={[996.7, 1044, 1091.7]} labelX={942} nodeY0={53.5} nodeStep={21.95} labelY0={51.3} labelStep={21.69} tstat={tstatB} signif={signifB} />
    <ResponderLegend cx={1241.7} y0={603.5} dy={19.2} tx={1256} />
    <TstatLegend />

    {/* panel c */}
    <PanelLetter x={8} y={818}>c</PanelLetter>
    <ResponsePanel high={dcActHigh} low={dcActLow} axisTop={782} axisBottom={906} tickY={923.3} titleLines={["LI.M165 (DC activation module)", "score in pDC (C9)"]} titleY={943} pLabel="p = 0.0073" pY={893.3} />
    <ResponsePanel high={ifnHigh} low={ifnLow} axisTop={988} axisBottom={1113} tickY={1128.3} titleLines={[`IFN${MINUS}I${MINUS}DCact score in pDC (C9)`]} titleY={1150} pLabel="p = 0.014" pY={1101.7} />

    {/* panel d */}
    <PanelLetter x={538} y={818}>d</PanelLetter>
    <GseaPanel />

    {/* panel e */}
    <PanelLetter x={29.5} y={1237}>e</PanelLetter>
    <MiniBoxPanel high={cdHigh} low={cdLow} starred={cdStarred} axisX={102.7} xRight={270.7} yTop={1236.6} yBottom={1880} cy0={1283} labelRight={95.5} starX={113.3} title="CD40act score" tickY={1892} titleY={1910.5} ylabX={61.5} />
    <TreePanel colX={[357, 405, 452.5]} labelX={300} nodeY0={1229.6} nodeStep={22.03} labelY0={1236.9} labelStep={21.7} tstat={tstatE} signif={signifE} />

    {/* panel f */}
    <PanelLetter x={645.5} y={1433}>f</PanelLetter>
    <RankPanel />
  </svg>
);

export default App;
